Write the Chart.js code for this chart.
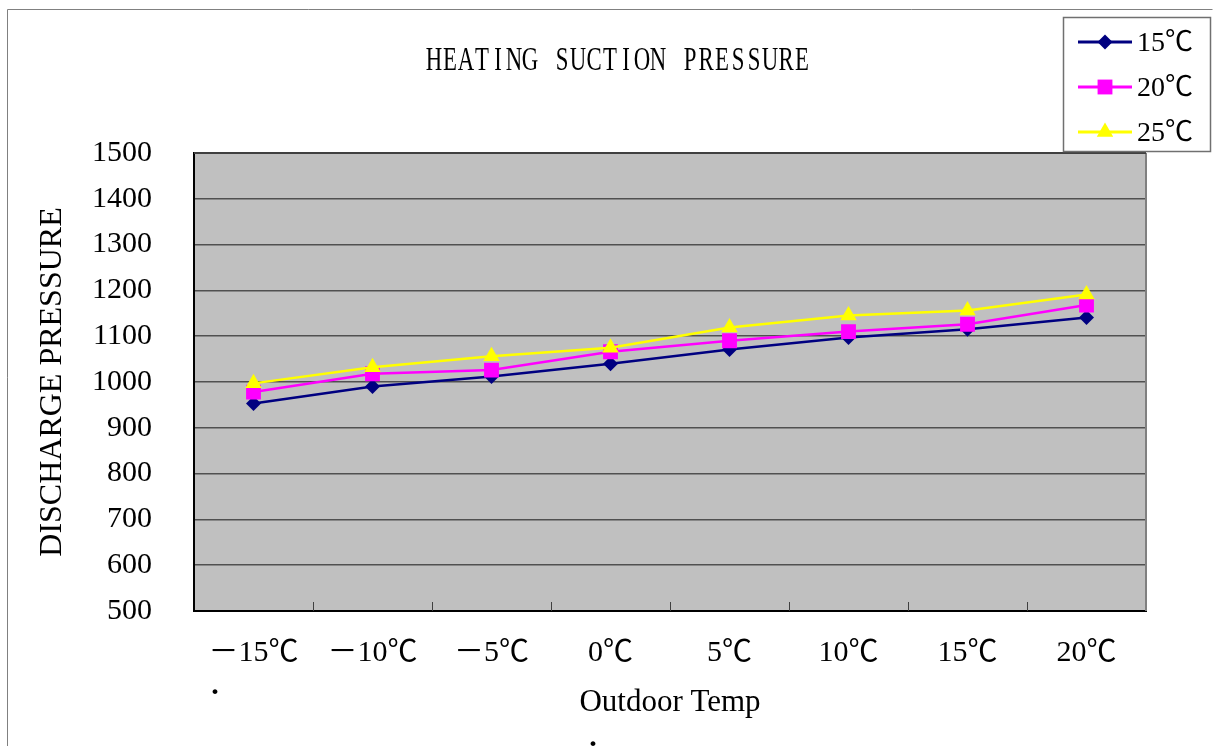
<!DOCTYPE html>
<html>
<head>
<meta charset="utf-8">
<script src="https://cdn.jsdelivr.net/npm/chart.js@4/dist/chart.umd.min.js"></script>
<style>
  html, body { margin: 0; padding: 0; background: #fff; }
  canvas { display: block; }
</style>
</head>
<body>
<canvas id="chart" width="1213" height="746"></canvas>
<script>
// values
const categories = ['－15℃', '－10℃', '－5℃', '0℃', '5℃', '10℃', '15℃', '20℃'];
const seriesLabels = ['15℃', '20℃', '25℃'];
const temp15 = [953, 990, 1012, 1040, 1071, 1097, 1115, 1141];
const temp20 = [978, 1018, 1026, 1066, 1090, 1110, 1126, 1168];
const temp25 = [997, 1032, 1056, 1075, 1119, 1145, 1156, 1191];
const yTicks = { min: 500, max: 1500, step: 100 };

const SERIF = "'Liberation Serif', 'Noto Sans CJK SC', serif";
const TITLE = 'HEATING SUCTION PRESSURE';

// draws one marker shape the same way in the legend
function drawMarker(ctx, style, x, y, r, color) {
  ctx.save();
  ctx.fillStyle = color;
  ctx.beginPath();
  if (style === 'rectRot') {
    ctx.moveTo(x, y - r); ctx.lineTo(x + r, y); ctx.lineTo(x, y + r); ctx.lineTo(x - r, y);
  } else if (style === 'rect') {
    const s = r * Math.SQRT1_2;
    ctx.rect(x - s, y - s, 2 * s, 2 * s);
  } else if (style === 'triangle') {
    ctx.moveTo(x, y - r);
    ctx.lineTo(x + r * Math.sin(Math.PI * 2 / 3), y + r / 2);
    ctx.lineTo(x - r * Math.sin(Math.PI * 2 / 3), y + r / 2);
  }
  ctx.closePath();
  ctx.fill();
  ctx.restore();
}

const decorations = {
  id: 'decorations',
  beforeDraw(chart) {
    const { ctx, chartArea: a } = chart;
    ctx.save();
    ctx.fillStyle = '#fff';
    ctx.fillRect(0, 0, chart.width, chart.height);
    // outer frame
    ctx.strokeStyle = '#808080';
    ctx.lineWidth = 1;
    ctx.beginPath();
    ctx.moveTo(7.5, 746); ctx.lineTo(7.5, 9.5); ctx.lineTo(1212.5, 9.5);
    ctx.stroke();
    // plot background
    ctx.fillStyle = '#c0c0c0';
    ctx.fillRect(a.left, a.top, a.right - a.left, a.bottom - a.top);
    ctx.restore();
  },
  afterDraw(chart) {
    const { ctx, chartArea: a } = chart;
    const x = chart.scales.x;
    ctx.save();
    // right and top plot edge
    ctx.strokeStyle = '#808080';
    ctx.lineWidth = 2;
    ctx.beginPath();
    ctx.moveTo(a.right, a.top); ctx.lineTo(a.right, a.bottom);
    ctx.stroke();
    ctx.strokeStyle = '#404040';
    ctx.beginPath();
    ctx.moveTo(a.left, a.top); ctx.lineTo(a.right, a.top);
    ctx.stroke();
    // inner tick marks between categories
    ctx.strokeStyle = '#404040';
    ctx.lineWidth = 1;
    for (let i = 0; i < categories.length - 1; i++) {
      const px = Math.round((x.getPixelForValue(i) + x.getPixelForValue(i + 1)) / 2) + 0.5;
      ctx.beginPath();
      ctx.moveTo(px, a.bottom); ctx.lineTo(px, a.bottom - 9);
      ctx.stroke();
    }

    // chart title: narrow serif glyphs on a fixed 16px pitch
    ctx.fillStyle = '#000';
    ctx.textAlign = 'center';
    ctx.textBaseline = 'middle';
    ctx.font = '30px ' + SERIF;
    const pitch = 16;
    const startX = 618 - (TITLE.length - 1) * pitch / 2;
    for (let i = 0; i < TITLE.length; i++) {
      ctx.setTransform(0.76, 0, 0, 1.1, startX + i * pitch, 61);
      ctx.fillText(TITLE[i], 0, 0);
    }
    ctx.setTransform(1, 0, 0, 1, 0, 0);

    // legend box
    ctx.fillStyle = '#fff';
    ctx.fillRect(1063, 17, 147, 134);
    ctx.strokeStyle = '#707070';
    ctx.lineWidth = 1.5;
    ctx.strokeRect(1063.5, 17.5, 147, 134);
    ctx.font = '28px ' + SERIF;
    ctx.textAlign = 'left';
    ctx.textBaseline = 'middle';
    chart.data.datasets.forEach((ds, i) => {
      const ly = 42 + i * 45;
      ctx.strokeStyle = ds.borderColor;
      ctx.lineWidth = 3;
      ctx.beginPath();
      ctx.moveTo(1078, ly); ctx.lineTo(1132, ly);
      ctx.stroke();
      drawMarker(ctx, ds.pointStyle, 1105, ly, ds.pointRadius, ds.pointBackgroundColor);
      ctx.fillStyle = '#000';
      ctx.fillText(ds.label, 1137, ly + 2);
    });

    // stray dots from the original sheet
    ctx.font = 'bold 30px ' + SERIF;
    ctx.textAlign = 'center';
    ctx.textBaseline = 'alphabetic';
    ctx.fillText('.', 215, 694);
    ctx.fillText('.', 593, 746);
    ctx.restore();
  }
};

new Chart(document.getElementById('chart'), {
  type: 'line',
  data: {
    labels: categories,
    datasets: [
      {
        label: seriesLabels[0], data: temp15, order: 3,
        borderColor: '#000080', pointBackgroundColor: '#000080', pointBorderColor: '#000080',
        pointStyle: 'rectRot', pointRadius: 7.5
      },
      {
        label: seriesLabels[1], data: temp20, order: 2,
        borderColor: '#ff00ff', pointBackgroundColor: '#ff00ff', pointBorderColor: '#ff00ff',
        pointStyle: 'rect', pointRadius: 10.5
      },
      {
        label: seriesLabels[2], data: temp25, order: 1,
        borderColor: '#ffff00', pointBackgroundColor: '#ffff00', pointBorderColor: '#ffff00',
        pointStyle: 'triangle', pointRadius: 9.5
      }
    ]
  },
  options: {
    responsive: false,
    animation: false,
    devicePixelRatio: 1,
    elements: {
      line: { borderWidth: 2.5, tension: 0, fill: false },
      point: { borderWidth: 0, hoverRadius: 10 }
    },
    layout: { padding: { top: 153, right: 67, left: 0, bottom: 0 } },
    plugins: {
      legend: { display: false },
      title: { display: false },
      tooltip: { enabled: false }
    },
    scales: {
      x: {
        offset: true,
        grid: { display: false, offset: true },
        border: { display: true, color: '#000', width: 2 },
        ticks: { color: '#000', font: { family: SERIF, size: 30 }, padding: 16, maxRotation: 0, autoSkip: false },
        title: { display: true, text: 'Outdoor Temp', color: '#000', font: { family: SERIF, size: 31 }, padding: { top: 0, bottom: 25 } },
        afterFit(scale) { scale.height = 135; }
      },
      y: {
        min: yTicks.min,
        max: yTicks.max,
        ticks: { stepSize: yTicks.step, color: '#000', font: { family: SERIF, size: 30 }, padding: 42, callback: v => String(v) },
        grid: { color: '#505050', lineWidth: 1.5, drawTicks: false },
        border: { display: true, color: '#000', width: 2 },
        title: { display: true, text: 'DISCHARGE PRESSURE', color: '#000', font: { family: SERIF, size: 32 }, padding: { top: 33, bottom: 0 } },
        afterFit(scale) { scale.width = 194; }
      }
    }
  },
  plugins: [decorations]
});
</script>
</body>
</html>
